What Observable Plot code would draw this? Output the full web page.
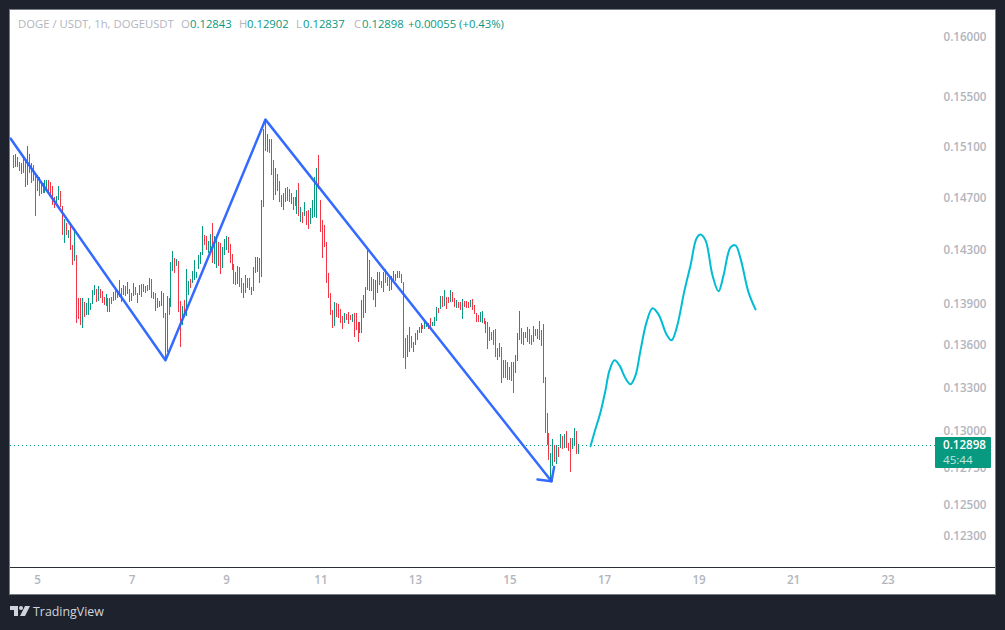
<!DOCTYPE html>
<html>
<head>
<meta charset="utf-8">
<script src="https://cdn.jsdelivr.net/npm/d3@7"></script>
<script src="https://cdn.jsdelivr.net/npm/@observablehq/plot@0.6"></script>
<style>
  html, body { margin: 0; padding: 0; background: #1e222d; width: 1005px; height: 630px; overflow: hidden; }
  body { position: relative; font-family: "Open Sans", sans-serif; }
  #chart { position: absolute; left: 10px; top: 10px; width: 985px; height: 584px; outline: 1px solid #787b86; }
  #chart svg { display: block; }
  #axisline { position: absolute; left: 10px; top: 567px; width: 985px; height: 1px; background: #2a2e39; }
  #legend { position: absolute; left: 18px; top: 16px; height: 16px; font-size: 11.3px; line-height: 16px; color: #b2b5be; white-space: nowrap; }
  #legend span { position: absolute; top: 0; }
  #legend .v { color: #089981; }
  #tag { position: absolute; left: 935px; top: 437px; width: 56px; height: 31px; background: #089981; border-radius: 1px; color: #fff; font-size: 11.6px; line-height: 15px; }
  #tag div { padding-left: 8px; font-weight: 600; }
  #tag div + div { font-weight: 400; color: #c3e6df; }
  #brand { position: absolute; left: 10px; top: 604px; height: 16px; color: #d1d4dc; font-size: 12.4px; line-height: 16px; }
  #brand svg { position: absolute; left: 0; top: 2px; }
  #brand span { position: absolute; left: 23px; top: 0; }
</style>
</head>
<body>
<div id="chart"></div>
<div id="axisline"></div>
<div id="legend"></div>
<div id="tag"><div>0.12898</div><div>45:44</div></div>
<div id="brand">
  <svg width="20" height="11" viewBox="0 0 20 11"><path d="M0 0H8V10H4V4H0Z M15 0H20L15 10H10Z" fill="#d1d4dc"/><circle cx="11" cy="2" r="2" fill="#d1d4dc"/></svg>
  <span>TradingView</span>
</div>
<script>
// Hourly price ranges, in units of 0.00001 USDT, one entry per hour
const highs = [
  15027,15035,15012,14972,14964,15012,14988,15099,15035,14964,
  14948,14862,14870,14854,14815,14807,14831,14831,14831,14815,
  14784,14698,14706,14784,14745,14629,14529,14498,14445,14490,
  14331,14460,14255,13936,13936,13936,13906,13899,13936,13899,
  13995,14032,14002,14024,14002,13988,13943,13966,13936,13936,
  13943,13980,14002,13995,14069,14010,14032,14024,14054,14002,
  13973,14047,14017,13973,14032,14039,14039,14024,14032,14084,
  14076,13980,13973,13936,13914,13988,13973,13826,13951,13936,
  14203,14285,14233,14225,14210,13914,13877,13921,14151,14062,
  14076,14136,14218,14128,14255,14278,14475,14407,14399,14361,14414,
  14498,14399,14392,14354,14346,14316,14376,14399,14392,14338,
  14263,14188,14128,14173,14165,14084,14047,14106,14084,14084,
  14017,14165,14240,14240,14233,14675,15234,15314,15194,15154,15154,
  14988,14925,14878,14823,14714,14730,14769,14776,14761,14730,
  14698,14698,14753,14807,14621,14582,14659,14590,14598,14613,
  14675,14854,14925,15027,14675,14521,14483,14354,14121,13973,
  13848,13906,13899,13892,13855,13804,13826,13819,13833,13811,
  13819,13826,13826,13761,13761,13921,13958,14017,14293,14218,
  14091,14076,14069,14128,14128,14062,14128,14151,14091,14084,
  14098,14136,14113,14136,14136,14113,14054,13645,13667,13725,
  13660,13617,13681,13703,13725,13753,13739,13775,13761,13753,
  13790,13761,13797,13870,13863,13951,13951,13995,13943,13943,
  13995,13980,13936,13921,13906,13906,13929,13914,13914,13906,
  13921,13929,13884,13826,13811,13833,13841,13790,13768,13761,
  13725,13689,13703,13710,13574,13610,13581,13488,13488,13474,13438,
  13474,13474,13523,13681,13841,13717,13689,13689,13725,13710,
  13667,13732,13710,13710,13768,13703,13746,13368,13117,12980,
  12844,12939,12898,12898,12884,12973,12959,12973,12993,12912,
  12946,12946,13014,12993,12902
];
const lows = [
  14925,14933,14933,14901,14878,14886,14776,14792,14886,14807,
  14823,14552,14745,14706,14722,14730,14730,14753,14730,14698,
  14636,14613,14652,14675,14621,14407,14346,14407,14384,14293,
  14180,14210,13753,13782,13739,13717,13797,13811,13811,13848,
  13892,13958,13906,13914,13936,13899,13884,13877,13833,13833,
  13892,13914,13921,13936,13943,13906,13958,13951,13966,13906,
  13914,13951,13958,13899,13958,13943,13980,13973,13988,13995,
  13936,13929,13841,13863,13870,13877,13790,13502,13545,13811,
  13870,14136,14121,14173,13833,13581,13739,13797,13804,13958,
  14010,14047,14069,14084,14151,14188,14255,14331,14293,14270,14293,
  14195,14188,14158,14173,14113,14158,14255,14293,14270,14195,
  14143,14039,14032,14039,14017,13973,13936,13973,14010,13995,
  13958,13988,14121,14128,14047,14091,14621,15059,15051,15043,14870,
  14675,14714,14745,14659,14621,14598,14659,14667,14659,14644,
  14598,14629,14567,14552,14506,14498,14552,14483,14452,14490,
  14537,14544,14537,14761,14430,14233,14316,14047,13936,13811,
  13717,13731,13797,13790,13753,13710,13753,13775,13746,13775,
  13761,13653,13703,13617,13681,13681,13790,13826,13995,13988,
  13988,13921,13870,13973,14032,14010,13980,14047,14024,13988,
  13995,14069,14062,14084,14084,14047,13502,13424,13509,13545,
  13574,13545,13595,13631,13681,13681,13710,13710,13725,13710,
  13717,13731,13731,13768,13826,13855,13870,13877,13855,13899,
  13906,13906,13870,13863,13863,13848,13782,13870,13863,13863,
  13870,13848,13819,13761,13761,13761,13753,13746,13681,13566,
  13624,13631,13595,13509,13488,13509,13326,13361,13361,13347,13347,
  13340,13256,13396,13481,13631,13603,13595,13645,13617,13603,
  13595,13617,13660,13638,13631,13588,13326,12980,12898,12796,
  12655,12756,12783,12769,12816,12878,12871,12878,12878,12857,
  12716,12871,12898,12837,12837
];
// r = closed down, g = closed up
const directions = (
  "rgrrgrrgrr" + "rrgrgrggrr" + "rrggrrgrgr" + "rgrrrgrggg" + "ggrgrrrgrg" +
  "rgrggrgrgr" + "ggrggrgrrg" + "rgrgggrrgr" + "ggrgrrgrgg" + "rggggggrrgg" +
  "rggrrgggrr" + "rrrgrrgrgr" + "ggggrggrgrr" + "rgrrgggrrg" + "rrgrgrgrrg" +
  "gggrrrrrrr" + "rgrrrrgrrr" + "grrrgggggr" + "rrggrrgrrr" + "ggggrrrrgg" +
  "rgggrgrggr" + "rgggrgrgrr" + "grrgrrgrrr" + "grrrrggrrr" + "grrrrgrgrrr" +
  "rrgggrgggr" + "rgrgrrrrrr" + "ggrgrgrgrr" + "rggrg"
).split("");
const firstHourDay = 4.492;

// Hand-drawn zigzag (blue)
const zigzagDays = [4.43, 7.709, 9.825, 15.878];
const zigzagPrices = [0.15162, 0.13488, 0.15314, 0.12655];
const arrowDays = [15.582, 15.878, 15.934];
const arrowPrices = [0.12667, 0.12655, 0.12751];

// Projected path (cyan)
const projectionDays = [16.704,16.788,16.915,17.021,17.106,17.212,17.317,17.444,17.55,17.656,17.762,17.889,18.016,18.143,18.312,18.418,18.524,18.693,18.82,18.947,19.032,19.138,19.286,19.413,19.519,19.667,19.772,19.878,20.048,20.196];
const projectionPrices = [0.12891,0.12986,0.13124,0.13277,0.13417,0.13488,0.13452,0.13361,0.13319,0.13382,0.13559,0.13761,0.13863,0.13819,0.13674,0.13631,0.13717,0.13995,0.1418,0.14384,0.14414,0.14369,0.14106,0.13988,0.14106,0.14316,0.14331,0.14233,0.1398,0.13855];

const priceTicks = [0.16,0.155,0.151,0.147,0.143,0.139,0.136,0.133,0.13,0.1275,0.125,0.123];
const dayTicks = [5,7,9,11,13,15,17,19,21,23];
const lastClose = 0.12898;

const legendItems = [
  ["DOGE / USDT, 1h, DOGEUSDT", 0, ""],
  ["O", 163, ""], ["0.12843", 172, "v"],
  ["H", 221, ""], ["0.12902", 229, "v"],
  ["L", 278, ""], ["0.12837", 285, "v"],
  ["C", 336, ""], ["0.12898", 344, "v"],
  ["+0.00055 (+0.43%)", 390, "v"]
];

const RED = "#f23645", GREEN = "#089981", BLUE = "#2962ff", CYAN = "#00bcd4", GREY = "#b2b5be";

const bars = highs.map((h, i) => ({
  day: firstHourDay + i / 24,
  high: h / 1e5,
  low: lows[i] / 1e5,
  dir: directions[i]
}));
const zip = (xs, ys) => xs.map((x, i) => ({x, y: ys[i]}));

const chart = Plot.plot({
  width: 985,
  height: 584,
  marginTop: 0,
  marginLeft: 0,
  marginRight: 60,
  marginBottom: 27,
  style: {background: "#ffffff", fontFamily: "Open Sans", fontSize: "11.6px"},
  x: {domain: [4.429, 24.005], label: null},
  y: {type: "log", domain: [0.12092, 0.16221], label: null},
  color: {domain: ["r", "g"], range: [RED, GREEN]},
  marks: [
    Plot.axisX({ticks: dayTicks, tickSize: 0, tickPadding: 8, color: GREY, tickFormat: d => String(d), fontWeight: 600}),
    Plot.axisY({anchor: "right", ticks: priceTicks, tickSize: 0, tickPadding: 8, dy: 1, color: GREY, tickFormat: d3.format(".5f"), fontWeight: 600}),
    Plot.ruleY([lastClose], {stroke: GREEN, strokeDasharray: "1 3", strokeWidth: 1, shapeRendering: "crispEdges"}),
    Plot.ruleX(bars, {x: "day", y1: "low", y2: "high", stroke: "dir", strokeWidth: 1, shapeRendering: "crispEdges"}),
    Plot.line(zip(zigzagDays, zigzagPrices), {x: "x", y: "y", stroke: BLUE, strokeWidth: 2.5, strokeOpacity: 0.95}),
    Plot.line(zip(arrowDays, arrowPrices), {x: "x", y: "y", stroke: BLUE, strokeWidth: 2.5, strokeOpacity: 0.95}),
    Plot.line(zip(projectionDays, projectionPrices), {x: "x", y: "y", stroke: CYAN, strokeWidth: 2, curve: "catmull-rom"})
  ]
});
document.getElementById("chart").appendChild(chart);

const legend = document.getElementById("legend");
for (const [text, left, cls] of legendItems) {
  const s = document.createElement("span");
  s.textContent = text;
  s.style.left = left + "px";
  if (cls) s.className = cls;
  legend.appendChild(s);
}
</script>
</body>
</html>
